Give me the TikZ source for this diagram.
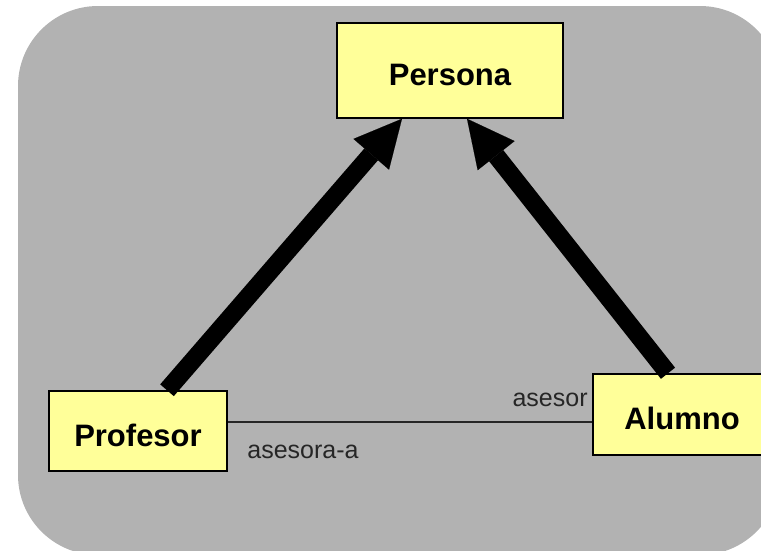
\documentclass[tikz,border=0pt]{standalone}
\usepackage{fontspec}
\setmainfont{Liberation Sans}
\usetikzlibrary{arrows.meta}
\definecolor{bggrey}{RGB}{178,178,178}
\definecolor{boxyellow}{RGB}{255,255,153}
\begin{document}
\begin{tikzpicture}[x=1pt,y=-1pt,
  cls/.style={draw=black, line width=1.5pt, fill=boxyellow,
    font=\bfseries\fontsize{31}{31}\selectfont,
    text height=30pt, text depth=0pt, inner sep=0pt},
  inh/.style={line width=18pt,
    -{Triangle[length=47pt,width=47pt,line width=0.1pt]}},
  assoc/.style={line width=1.3pt, draw=black!85},
  role/.style={font=\fontsize{25}{25}\selectfont, text=black!85, inner sep=0pt}]
\useasboundingbox (0,0) rectangle (761,550);
\clip (0,0) rectangle (761,550);
\fill[bggrey, rounded corners=80pt] (18,6) rectangle (780,555);

\node[cls, minimum width=226pt, minimum height=95pt] (per) at (450,70.5) {Persona};
\node[cls, minimum width=178pt, minimum height=80pt] (prof) at (138,431) {Profesor};
\node[cls, minimum width=178pt, minimum height=81pt] (alu) at (682,414.5) {Alumno};

\draw[inh] ([xshift=29pt]prof.north) -- ([xshift=-48pt]per.south);
\draw[inh] ([xshift=-14pt]alu.north) -- ([xshift=17pt]per.south);

\draw[assoc] ([yshift=9pt]prof.east) -- ([yshift=9pt]prof.east -| alu.west)
  node[role, pos=1, anchor=base east, xshift=-4pt, yshift=16pt] {asesor}
  node[role, pos=0, anchor=base west, xshift=19pt, yshift=-36pt] {asesora-a};
\end{tikzpicture}
\end{document}
